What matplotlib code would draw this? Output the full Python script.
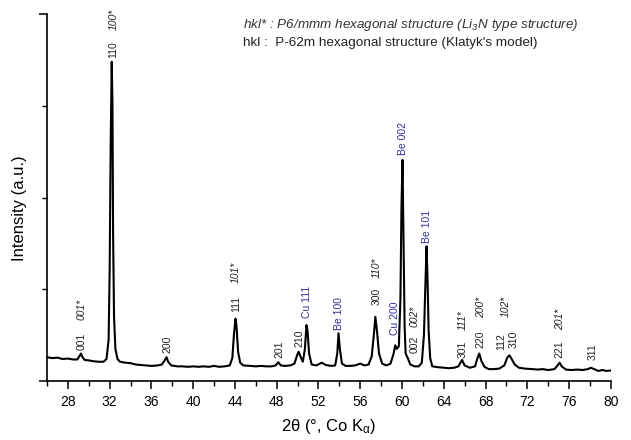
import numpy as np
import matplotlib.pyplot as plt
from matplotlib.ticker import MultipleLocator, FixedLocator, NullFormatter

plt.rcParams['font.family'] = ['Liberation Sans', 'DejaVu Sans']
plt.rcParams['mathtext.fontset'] = 'custom'
plt.rcParams['mathtext.rm'] = 'Liberation Sans'
plt.rcParams['mathtext.it'] = 'Liberation Sans:italic'
plt.rcParams['mathtext.default'] = 'regular'

# --- traced pattern (2theta in deg, intensity in a.u.) ---
two_theta = [26.0, 26.5, 27.0, 27.5, 28.0, 28.5, 28.9, 29.1, 29.25, 29.4, 29.6, 30.0, 30.5, 31.0, 31.4,
             31.7, 31.9, 32.0, 32.1, 32.2, 32.27, 32.33, 32.42, 32.55, 32.75, 33.0, 33.5, 34.0, 34.5,
             35.0, 35.5, 36.0, 36.6, 37.0, 37.3, 37.45, 37.6, 37.9, 38.5, 39.0, 39.5, 40.0, 40.5, 41.0,
             41.5, 42.0, 42.5, 43.0, 43.5, 43.75, 43.9, 44.05, 44.15, 44.3, 44.5, 44.8, 45.5, 46.0,
             46.5, 47.0, 47.5, 47.9, 48.15, 48.4, 48.8, 49.3, 49.7, 49.95, 50.1, 50.3, 50.5, 50.7,
             50.85, 50.95, 51.1, 51.35, 51.8, 52.3, 52.7, 53.2, 53.6, 53.8, 53.92, 54.05, 54.25, 54.6,
             55.0, 55.5, 56.0, 56.4, 56.8, 57.1, 57.3, 57.45, 57.6, 57.8, 58.1, 58.5, 58.9, 59.2,
             59.35, 59.5, 59.7, 59.85, 59.95, 60.05, 60.15, 60.25, 60.35, 60.55, 60.8, 61.2, 61.6,
             61.9, 62.1, 62.25, 62.35, 62.45, 62.55, 62.7, 62.9, 63.5, 64.0, 64.5, 65.0, 65.4, 65.75,
             66.0, 66.5, 67.0, 67.2, 67.4, 67.6, 67.9, 68.3, 68.8, 69.3, 69.8, 70.1, 70.3, 70.5, 70.8,
             71.2, 71.8, 72.5, 73.0, 73.5, 74.0, 74.6, 74.9, 75.1, 75.3, 75.7, 76.2, 76.8, 77.3, 77.8,
             78.1, 78.4, 78.8, 79.2, 79.6, 80.0]
intensity = [0.26, 0.25, 0.255, 0.24, 0.245, 0.235, 0.235, 0.27, 0.30, 0.26, 0.23, 0.225, 0.215, 0.21, 0.21,
             0.24, 0.45, 1.2, 2.6, 3.48, 3.0, 1.6, 0.7, 0.35, 0.24, 0.21, 0.20, 0.195, 0.18,
             0.175, 0.17, 0.165, 0.17, 0.18, 0.23, 0.26, 0.21, 0.17, 0.16, 0.16, 0.155, 0.16, 0.155, 0.16,
             0.155, 0.165, 0.155, 0.16, 0.17, 0.25, 0.50, 0.68, 0.60, 0.32, 0.20, 0.17, 0.165, 0.16,
             0.165, 0.16, 0.16, 0.17, 0.205, 0.17, 0.165, 0.17, 0.19, 0.28, 0.32, 0.26, 0.21, 0.35,
             0.61, 0.55, 0.30, 0.18, 0.17, 0.20, 0.175, 0.165, 0.17, 0.30, 0.52, 0.35, 0.19, 0.165,
             0.165, 0.17, 0.19, 0.17, 0.18, 0.27, 0.50, 0.70, 0.55, 0.30, 0.19, 0.17, 0.19, 0.30,
             0.39, 0.35, 0.38, 0.90, 1.9, 2.41, 1.5, 0.6, 0.30, 0.25, 0.18, 0.16, 0.16,
             0.20, 0.50, 1.1, 1.47, 1.1, 0.55, 0.25, 0.16, 0.15, 0.145, 0.14, 0.145, 0.16, 0.23,
             0.17, 0.145, 0.16, 0.24, 0.30, 0.22, 0.155, 0.13, 0.13, 0.135, 0.17, 0.26, 0.28, 0.24, 0.18,
             0.145, 0.135, 0.13, 0.125, 0.13, 0.12, 0.13, 0.17, 0.20, 0.16, 0.125, 0.12, 0.125, 0.12, 0.13,
             0.145, 0.13, 0.11, 0.12, 0.11, 0.115]

# peak labels: text, x, y(bottom), kind  (n = P-62m, s = P6/mmm, m = metal)
lab_text = ['001', '001*', '110', '100*', '200', '111', '101*', '201', '210', 'Cu 111',
            'Be 100', '300', '110*', 'Cu 200', 'Be 002', '002', '002*', 'Be 101', '301', '111*',
            '220', '200*', '112', '310', '102*', '221', '201*', '311']
lab_x = [29.35, 29.35, 32.35, 32.35, 37.5, 44.1, 44.1, 48.3, 50.15, 50.9,
         53.97, 57.6, 57.6, 59.33, 60.1, 61.25, 61.25, 62.35, 65.85, 65.85,
         67.5, 67.6, 69.55, 70.66, 69.97, 75.07, 75.1, 78.27]
lab_y = [0.34, 0.66, 3.52, 3.83, 0.305, 0.75, 1.07, 0.25, 0.37, 0.69,
         0.56, 0.83, 1.12, 0.50, 2.46, 0.305, 0.59, 1.50, 0.25, 0.56,
         0.36, 0.69, 0.34, 0.36, 0.70, 0.25, 0.56, 0.23]
lab_kind = ['n', 's', 'n', 's', 'n', 'n', 's', 'n', 'n', 'm',
            'm', 'n', 's', 'm', 'm', 'n', 's', 'm', 'n', 's',
            'n', 's', 'n', 'n', 's', 'n', 's', 'n']

fig = plt.figure(figsize=(6.31, 4.40), dpi=100)
ax = fig.add_axes([0.0745, 0.134, 0.8935, 0.834])
ax.plot(two_theta, intensity, color='black', lw=1.5)

ax.set_xlim(26, 80)
ax.set_ylim(0, 4)
for s in ['top', 'right']:
    ax.spines[s].set_visible(False)
for s in ['left', 'bottom']:
    ax.spines[s].set_linewidth(1.2)

ax.xaxis.set_major_locator(MultipleLocator(4))
ax.xaxis.set_minor_locator(MultipleLocator(2))
ax.yaxis.set_major_locator(FixedLocator([0, 4]))
ax.yaxis.set_minor_locator(FixedLocator([1, 2, 3]))
ax.yaxis.set_major_formatter(NullFormatter())
ax.tick_params(which='major', direction='out', length=6, width=1.1, labelsize=10, pad=4)
ax.tick_params(which='minor', direction='out', length=3.5, width=1.0)

ax.set_xlabel('2θ (°, Co K$_{α}$)', fontsize=12, labelpad=6)
ax.set_ylabel('Intensity (a.u.)', fontsize=12)
ax.yaxis.set_label_coords(-0.035, 0.47)

blue = '#2f2f9e'
for t, x, y, k in zip(lab_text, lab_x, lab_y, lab_kind):
    if k == 'm':
        ax.text(x, y, t, rotation=90, ha='center', va='bottom', fontsize=7.5, color=blue)
    elif k == 's':
        ax.text(x, y, t, rotation=90, ha='center', va='bottom', fontsize=7.5, color='#222222',
                style='italic')
    else:
        ax.text(x, y, t, rotation=90, ha='center', va='bottom', fontsize=7.5, color='#222222')

fig.text(0.385, 0.943, r'hkl* : P6/mmm hexagonal structure (Li$_3$N type structure)',
         fontsize=9.7, style='italic', color='#333333', va='center')
fig.text(0.385, 0.902, "hkl :  P-62m hexagonal structure (Klatyk's model)",
         fontsize=9.7, color='#222222', va='center')

fig.savefig('out.png', dpi=100)
